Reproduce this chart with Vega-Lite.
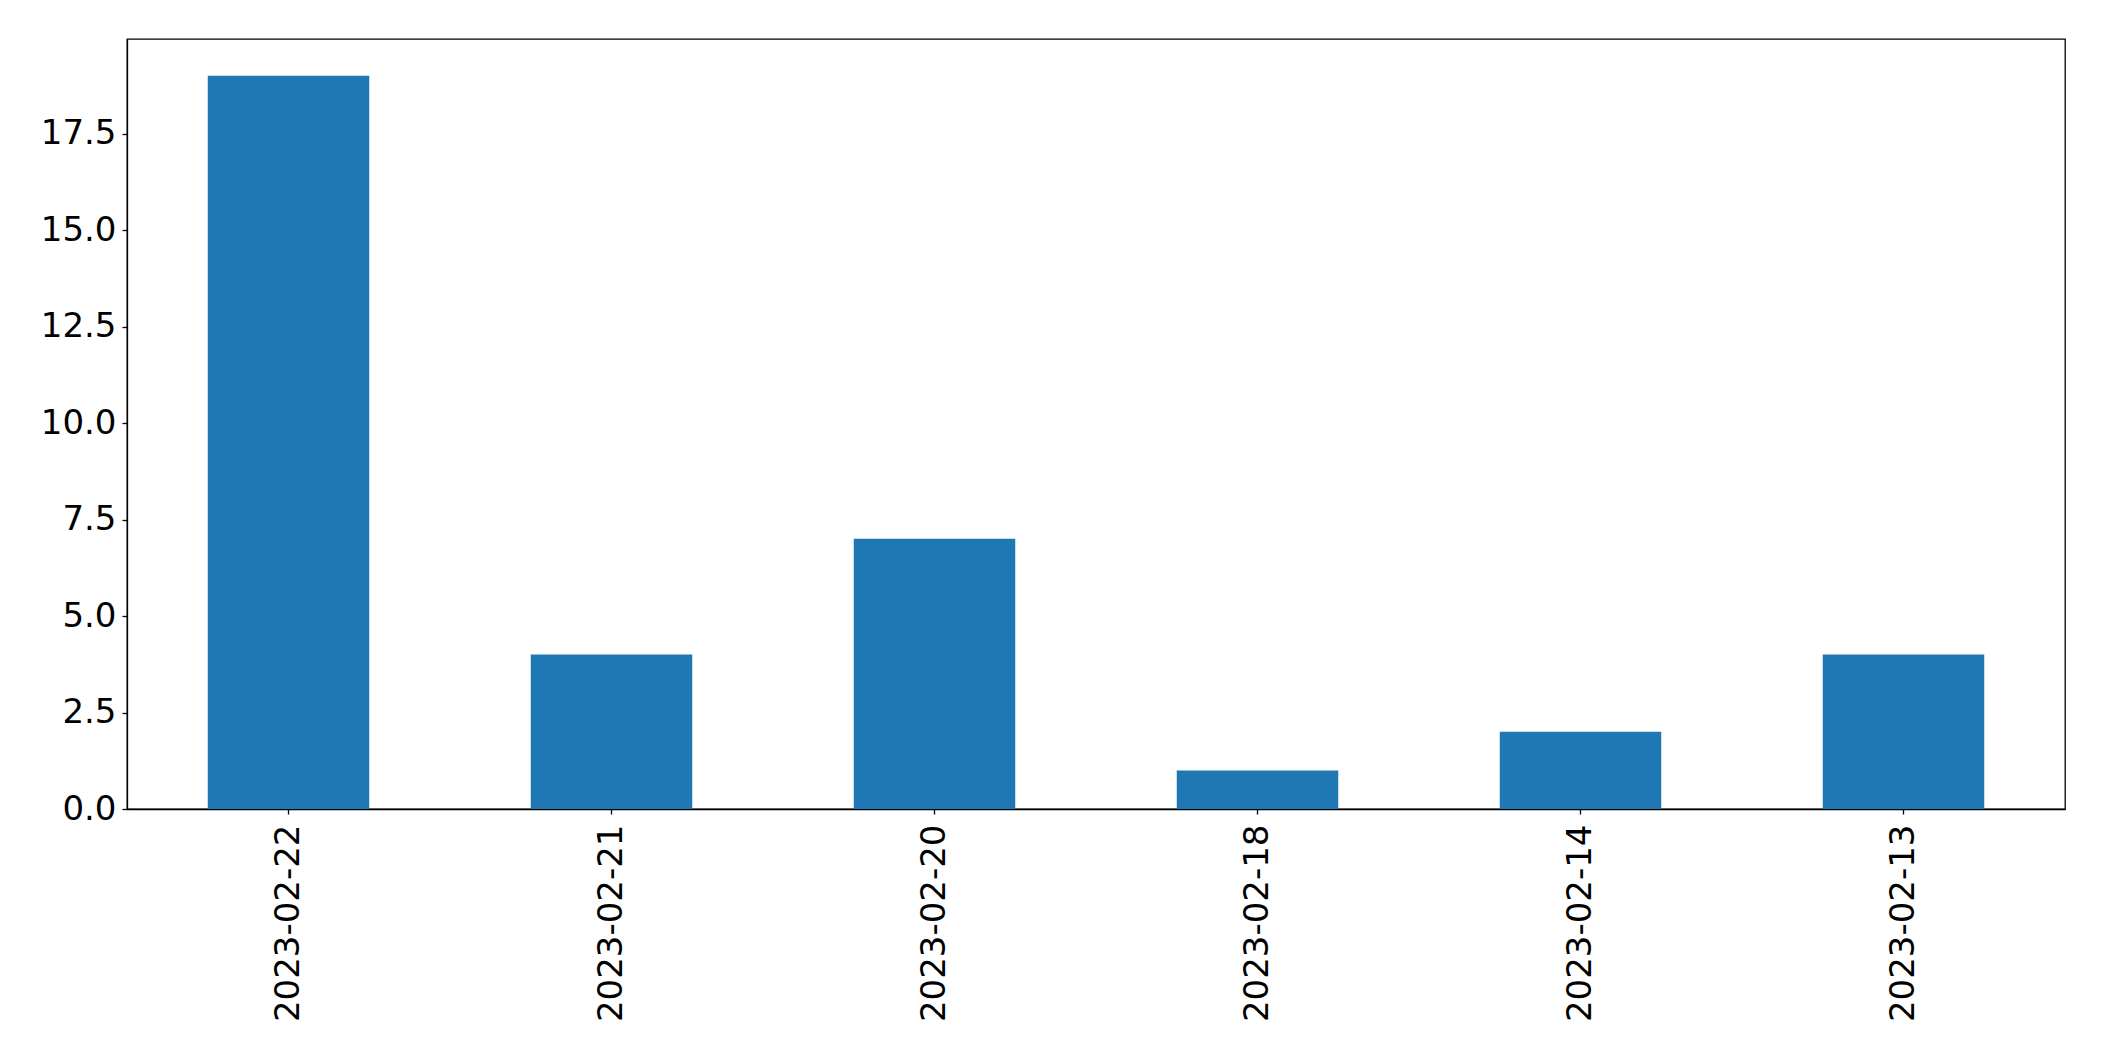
{
  "$schema": "https://vega.github.io/schema/vega-lite/v6.json",
  "width": 1938,
  "height": 770,
  "autosize": {"type": "none"},
  "padding": {"left": 127, "top": 39, "right": 39, "bottom": 252},
  "background": "white",
  "config": {
    "view": {"stroke": "black", "strokeWidth": 1.3},
    "font": "DejaVu Sans",
    "axis": {
      "labelFont": "DejaVu Sans",
      "labelFontSize": 34,
      "labelColor": "black",
      "labelLimit": 1000,
      "domainColor": "black",
      "domainWidth": 1.3,
      "tickColor": "black",
      "tickWidth": 1.3,
      "tickSize": 5,
      "labelPadding": 6,
      "grid": false,
      "title": null
    }
  },
  "data": {
    "values": [
      {"date": "2023-02-22", "count": 19},
      {"date": "2023-02-21", "count": 4},
      {"date": "2023-02-20", "count": 7},
      {"date": "2023-02-18", "count": 1},
      {"date": "2023-02-14", "count": 2},
      {"date": "2023-02-13", "count": 4}
    ]
  },
  "mark": {"type": "bar", "color": "#1f77b4"},
  "encoding": {
    "x": {
      "field": "date",
      "type": "nominal",
      "sort": null,
      "scale": {"paddingInner": 0.5, "paddingOuter": 0.25},
      "axis": {"labelAngle": -90, "labelAlign": "right", "labelBaseline": "middle", "labelPadding": 10}
    },
    "y": {
      "field": "count",
      "type": "quantitative",
      "scale": {"domain": [0, 19.95], "nice": false},
      "axis": {"values": [0, 2.5, 5, 7.5, 10, 12.5, 15, 17.5], "format": ".1f"}
    }
  }
}
